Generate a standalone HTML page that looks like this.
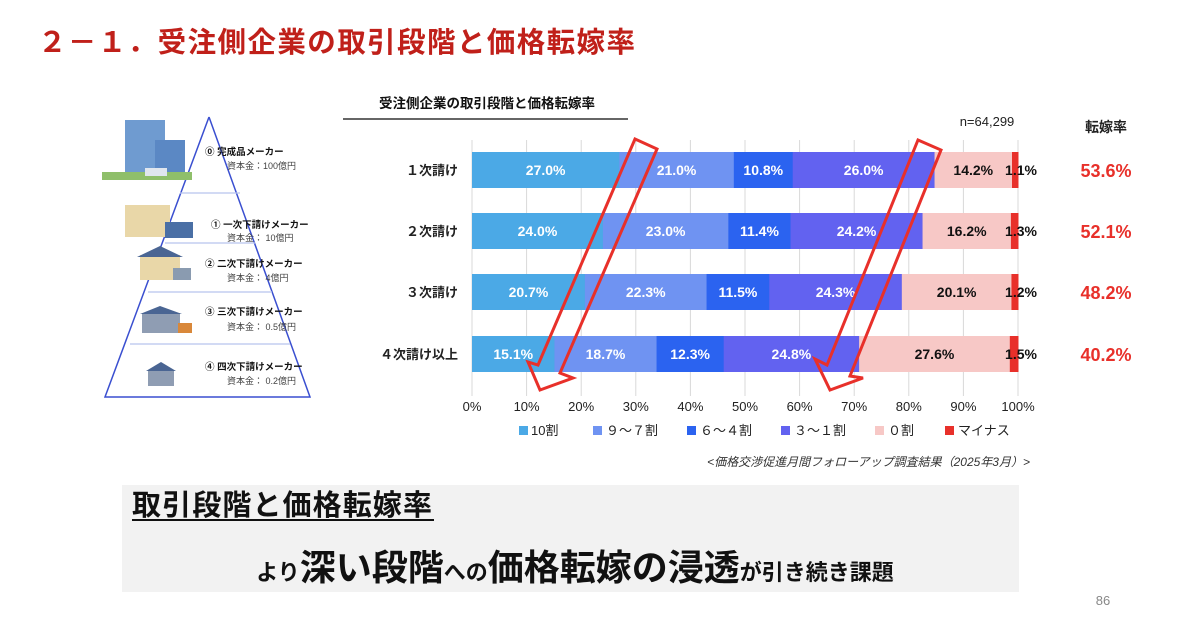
<!DOCTYPE html>
<html><head><meta charset="utf-8"><style>
body{margin:0;background:#fff;width:1200px;height:633px;overflow:hidden;font-family:"Liberation Sans","Noto Sans CJK JP",sans-serif}
</style></head><body>
<svg id="s" width="1200" height="633" xmlns="http://www.w3.org/2000/svg" font-family="Liberation Sans, Noto Sans CJK JP, sans-serif">
<text x="38" y="52" font-size="28.5" font-weight="bold" fill="#c0201a" textLength="597">２－１．受注側企業の取引段階と価格転嫁率</text>
<text x="487" y="108" font-size="13.5" font-weight="bold" text-anchor="middle" fill="#111">受注側企業の取引段階と価格転嫁率</text>
<line x1="343" y1="119" x2="628" y2="119" stroke="#333" stroke-width="1.5"/>
<text x="987" y="126" font-size="13" text-anchor="middle" fill="#222">n=64,299</text>
<text x="1106" y="132" font-size="14" font-weight="bold" text-anchor="middle" fill="#222">転嫁率</text>
<g id="grid"></g><g id="bars"></g>
<g fill="none" stroke="#e8302a" stroke-width="3" stroke-linejoin="miter">
<polygon points="635,139 657,149 560,373 573,378 540,390 528,362 538,365"/>
<polygon points="918,140 941,150 850,376 863,378 830,390 815,359 827,365"/>
</g>
<g font-size="13" fill="#222">
<rect x="519" y="426" width="9" height="9" fill="#4BA9E6"/><text x="531" y="435">10割</text>
<rect x="593" y="426" width="9" height="9" fill="#6F93F2"/><text x="606" y="435">９～７割</text>
<rect x="687" y="426" width="9" height="9" fill="#2B63F0"/><text x="700" y="435">６～４割</text>
<rect x="781" y="426" width="9" height="9" fill="#6262F0"/><text x="794" y="435">３～１割</text>
<rect x="875" y="426" width="9" height="9" fill="#F7C8C6"/><text x="888" y="435">０割</text>
<rect x="945" y="426" width="9" height="9" fill="#E8302A"/><text x="958" y="435">マイナス</text>
</g>
<text x="1030" y="466" font-size="12" font-style="italic" text-anchor="end" fill="#333">&lt;価格交渉促進月間フォローアップ調査結果（2025年3月）&gt;</text>
<rect x="122" y="485" width="897" height="107" fill="#f2f2f2"/>
<text x="132" y="515" font-size="29" font-weight="bold" fill="#111" textLength="300">取引段階と価格転嫁率</text>
<line x1="132" y1="520" x2="434" y2="520" stroke="#111" stroke-width="2"/>
<text x="575" y="580" text-anchor="middle" font-weight="bold" fill="#111"><tspan font-size="22">より</tspan><tspan font-size="36">深い段階</tspan><tspan font-size="22">への</tspan><tspan font-size="36">価格転嫁の浸透</tspan><tspan font-size="22">が引き続き課題</tspan></text>
<text x="1103" y="605" font-size="13" text-anchor="middle" fill="#888">86</text>
<g stroke="#3a4fd0" stroke-width="1.5" fill="none"><polyline points="209,117 105,397 310,397 209,117"/></g>
<g stroke="#b8c4ee" stroke-width="1.2">
<line x1="180" y1="193" x2="240" y2="193"/><line x1="165" y1="243" x2="255" y2="243"/><line x1="148" y1="292" x2="272" y2="292"/><line x1="130" y1="344" x2="290" y2="344"/></g>
<g>
<rect x="125" y="120" width="40" height="55" fill="#6f9bd0"/><rect x="155" y="140" width="30" height="36" fill="#5b88c4"/><rect x="102" y="172" width="90" height="8" fill="#8fbf6a"/><rect x="145" y="168" width="22" height="8" fill="#e0e6ee"/>
<rect x="125" y="205" width="45" height="32" fill="#e9d7a8"/><rect x="165" y="222" width="28" height="16" fill="#4a6fa5"/>
<rect x="140" y="255" width="40" height="25" fill="#e9d7a8"/><polygon points="137,257 160,246 183,257" fill="#4a6593"/><rect x="173" y="268" width="18" height="12" fill="#8a9bb0"/>
<rect x="142" y="313" width="38" height="20" fill="#8f9db3"/><polygon points="140,314 160,306 182,314" fill="#4a6593"/><rect x="178" y="323" width="14" height="10" fill="#d9883a"/>
<rect x="148" y="370" width="26" height="16" fill="#8f9db3"/><polygon points="146,371 161,362 176,371" fill="#4a6593"/>
</g>
<g font-size="9.5" fill="#111" font-weight="bold">
<text x="205" y="155">⓪ 完成品メーカー</text><text x="211" y="228">① 一次下請けメーカー</text><text x="205" y="267">② 二次下請けメーカー</text><text x="205" y="315">③ 三次下請けメーカー</text><text x="205" y="370">④ 四次下請けメーカー</text></g>
<g font-size="9" fill="#444">
<text x="227" y="169">資本金：100億円</text><text x="227" y="241">資本金：  10億円</text><text x="227" y="281">資本金：  4億円</text><text x="227" y="330">資本金：  0.5億円</text><text x="227" y="384">資本金：  0.2億円</text></g>
</svg>
<script>
var ns="http://www.w3.org/2000/svg",g=document.getElementById('grid'),b=document.getElementById('bars');
function el(p,t,a,txt){var e=document.createElementNS(ns,t);for(var k in a)e.setAttribute(k,a[k]);if(txt)e.textContent=txt;p.appendChild(e);return e;}
var x0=472,W=546;
for(var i=0;i<=10;i++){var x=x0+W*i/10;el(g,'line',{x1:x,y1:140,x2:x,y2:396,stroke:'#d9d9d9','stroke-width':1});
el(g,'text',{x:x,y:411,'font-size':13,'text-anchor':'middle',fill:'#222'},(i*10)+'%');}
var cols=['#4BA9E6','#6F93F2','#2B63F0','#6262F0','#F7C8C6','#E8302A'];
var rows=[['１次請け',[27.0,21.0,10.8,26.0,14.2,1.1],'53.6%',152],['２次請け',[24.0,23.0,11.4,24.2,16.2,1.3],'52.1%',213],['３次請け',[20.7,22.3,11.5,24.3,20.1,1.2],'48.2%',274],['４次請け以上',[15.1,18.7,12.3,24.8,27.6,1.5],'40.2%',336]];
rows.forEach(function(r){var y=r[3],s=r[1].reduce(function(a,c){return a+c},0),x=x0;
el(b,'text',{x:458,y:y+23,'font-size':13,'font-weight':'bold','text-anchor':'end',fill:'#222'},r[0]);
r[1].forEach(function(v,j){var w=W*v/s;el(b,'rect',{x:x,y:y,width:w+0.5,height:36,fill:cols[j]});
var cx=j==5?1021:x+w/2;el(b,'text',{x:cx,y:y+23,'font-size':14,'font-weight':'bold','text-anchor':'middle',fill:j>=4?'#111':'#fff'},v.toFixed(1)+'%');x+=w;});
el(b,'text',{x:1106,y:y+25,'font-size':18,'font-weight':'bold','text-anchor':'middle',fill:'#e8302a'},r[2]);});
</script>
</body></html>
